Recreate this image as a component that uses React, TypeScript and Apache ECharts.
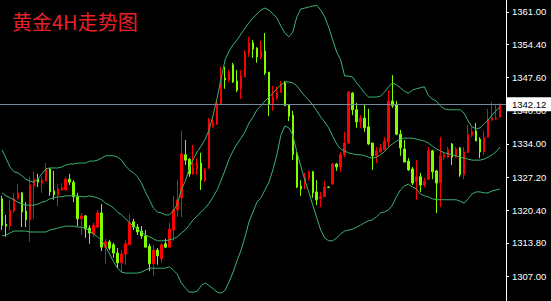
import { useEffect, useRef } from "react";
import * as echarts from "echarts";

const title = "黄金4H走势图";
const currentPrice = 1342.12;
const yTicks = [1307, 1313.8, 1320.4, 1327.2, 1334, 1340.8, 1347.6, 1354.4, 1361];

const opens = [
  1322.8, 1317.6, 1317.2, 1320.3, 1322.8, 1324.0, 1320.3, 1318.5, 1325.4, 1326.8,
  1326.0, 1326.4, 1328.9, 1324.4, 1323.6, 1324.6, 1324.6, 1326.8, 1326.2, 1323.2,
  1318.7, 1319.3, 1316.8, 1315.6, 1317.0, 1319.9, 1312.9, 1314.0, 1313.4, 1311.7,
  1309.7, 1311.5, 1313.4, 1318.1, 1317.0, 1316.2, 1315.2, 1313.1, 1309.5, 1312.3,
  1310.5, 1313.6, 1312.9, 1316.4, 1320.5, 1323.0, 1331.8, 1330.9, 1327.9, 1328.9,
  1330.1, 1326.6, 1329.1, 1337.5, 1338.1, 1342.2, 1347.5, 1347.1, 1350.2, 1346.9,
  1345.3, 1347.7, 1352.6, 1354.7, 1353.6, 1351.8, 1353.0, 1348.7, 1342.2, 1343.4,
  1344.6, 1346.5, 1342.0, 1339.9, 1331.8, 1325.4, 1326.0, 1327.1, 1328.3, 1324.2,
  1322.8, 1323.2, 1325.2, 1325.8, 1329.9, 1329.3, 1331.8, 1334.2, 1344.4, 1341.0,
  1338.5, 1339.3, 1337.5, 1334.2, 1331.6, 1332.4, 1332.8, 1334.4, 1342.8, 1342.0,
  1336.0, 1333.0, 1330.5, 1328.9, 1326.4, 1327.3, 1325.6, 1326.8, 1332.6, 1328.5,
  1326.0, 1331.3, 1331.3, 1334.0, 1331.3, 1333.2, 1327.7, 1332.2, 1335.8, 1336.7,
  1335.0, 1332.4, 1335.4, 1338.9, 1339.1, 1339.5,
];

const closes = [
  1317.4, 1317.2, 1320.5, 1322.8, 1324.0, 1320.1, 1318.5, 1325.6, 1326.8, 1326.2,
  1326.6, 1328.9, 1324.2, 1323.6, 1324.8, 1325.0, 1326.8, 1326.2, 1323.2, 1318.7,
  1319.3, 1316.6, 1315.8, 1317.4, 1319.9, 1312.9, 1314.0, 1312.7, 1311.7, 1309.7,
  1311.5, 1313.6, 1317.9, 1317.0, 1316.0, 1315.2, 1312.9, 1309.5, 1312.3, 1311.1,
  1313.4, 1312.9, 1316.6, 1320.5, 1322.6, 1332.0, 1330.7, 1327.9, 1329.1, 1330.1,
  1326.6, 1328.7, 1338.9, 1338.3, 1342.4, 1347.5, 1347.1, 1348.7, 1346.7, 1345.0,
  1347.9, 1352.6, 1354.7, 1353.4, 1351.8, 1353.0, 1348.5, 1342.2, 1343.6, 1344.6,
  1346.3, 1341.8, 1339.7, 1331.8, 1325.2, 1324.8, 1327.3, 1328.3, 1324.0, 1322.6,
  1323.2, 1325.2, 1325.1, 1329.9, 1329.3, 1331.8, 1334.2, 1344.6, 1341.0, 1338.5,
  1339.3, 1337.3, 1334.0, 1331.6, 1332.6, 1333.2, 1334.6, 1342.8, 1341.8, 1336.0,
  1333.2, 1330.3, 1328.7, 1326.0, 1327.3, 1325.6, 1326.4, 1332.6, 1328.3, 1326.0,
  1331.6, 1331.8, 1332.8, 1331.3, 1333.0, 1327.7, 1332.4, 1336.0, 1336.5, 1334.6,
  1332.4, 1335.4, 1339.1, 1339.3, 1339.3, 1342.12,
];

const lows = [
  1316.4, 1315.0, 1316.4, 1319.9, 1322.6, 1317.0, 1317.0, 1314.0, 1318.7, 1325.2,
  1324.0, 1326.4, 1323.4, 1322.6, 1321.3, 1324.4, 1324.6, 1325.6, 1322.1, 1317.2,
  1315.4, 1314.8, 1313.6, 1315.0, 1316.8, 1312.1, 1309.5, 1312.3, 1310.7, 1308.6,
  1307.8, 1309.3, 1313.4, 1316.4, 1315.4, 1314.6, 1312.9, 1308.0, 1307.0, 1309.3,
  1309.7, 1312.7, 1312.9, 1314.2, 1319.1, 1319.1, 1329.7, 1327.3, 1327.7, 1327.7,
  1324.6, 1326.2, 1328.9, 1337.3, 1337.9, 1342.2, 1345.3, 1346.7, 1346.5, 1344.6,
  1343.2, 1347.7, 1351.8, 1351.6, 1350.6, 1351.4, 1348.1, 1339.7, 1340.8, 1343.0,
  1344.4, 1341.8, 1338.7, 1330.7, 1325.0, 1323.4, 1324.8, 1326.6, 1323.0, 1321.5,
  1321.1, 1323.2, 1325.0, 1325.8, 1328.5, 1328.3, 1331.3, 1334.0, 1339.9, 1337.3,
  1337.3, 1336.5, 1333.8, 1328.7, 1330.1, 1332.2, 1332.8, 1333.4, 1341.4, 1335.8,
  1331.6, 1330.3, 1328.5, 1325.6, 1322.6, 1324.2, 1325.2, 1326.8, 1326.8, 1319.9,
  1321.1, 1330.7, 1331.1, 1329.7, 1331.1, 1327.3, 1326.8, 1332.2, 1335.4, 1334.6,
  1331.1, 1331.8, 1335.4, 1338.7, 1338.9, 1339.3,
];

const highs = [
  1323.4, 1319.5, 1322.6, 1324.0, 1325.8, 1324.2, 1322.1, 1327.3, 1328.3, 1327.9,
  1327.3, 1330.1, 1329.1, 1328.5, 1325.8, 1326.0, 1327.3, 1327.9, 1326.6, 1324.0,
  1319.9, 1319.5, 1317.4, 1317.9, 1320.5, 1321.7, 1314.6, 1314.4, 1313.8, 1312.7,
  1312.3, 1314.4, 1319.7, 1318.7, 1317.6, 1317.2, 1316.4, 1313.6, 1313.4, 1312.7,
  1313.8, 1314.6, 1317.9, 1323.4, 1326.6, 1336.7, 1334.8, 1331.1, 1333.8, 1331.1,
  1332.2, 1329.1, 1339.3, 1339.3, 1343.0, 1349.8, 1349.8, 1349.1, 1350.6, 1349.1,
  1349.1, 1353.2, 1355.9, 1355.3, 1353.8, 1355.1, 1356.7, 1348.7, 1345.9, 1345.7,
  1346.9, 1346.9, 1342.2, 1340.8, 1332.4, 1326.6, 1328.1, 1328.5, 1328.5, 1326.6,
  1324.2, 1326.4, 1325.3, 1330.1, 1330.1, 1332.4, 1336.5, 1344.8, 1344.6, 1342.4,
  1339.9, 1342.0, 1341.2, 1334.2, 1333.4, 1334.0, 1335.4, 1345.0, 1348.1, 1342.8,
  1336.9, 1334.8, 1331.1, 1329.3, 1330.7, 1328.1, 1327.1, 1333.4, 1332.8, 1328.7,
  1335.4, 1332.4, 1333.4, 1334.2, 1333.4, 1333.4, 1333.4, 1337.9, 1337.5, 1338.3,
  1335.4, 1336.7, 1341.2, 1342.6, 1342.2, 1342.3,
];

const bbUpper = [
  1332.8, 1331.1, 1329.3, 1328.3, 1328.1, 1327.5, 1326.8, 1326.4, 1326.2, 1326.8,
  1327.9, 1328.9, 1329.1, 1329.1, 1329.1, 1329.3, 1329.7, 1329.9, 1329.9, 1330.1,
  1330.1, 1330.1, 1330.5, 1330.5, 1330.7, 1331.1, 1331.6, 1331.6, 1331.6, 1331.3,
  1330.7, 1329.5, 1328.7, 1328.1, 1327.3, 1326.0, 1324.2, 1322.6, 1320.9, 1320.1,
  1319.9, 1319.5, 1319.5, 1320.3, 1321.7, 1324.6, 1326.4, 1328.9, 1330.9, 1332.4,
  1333.6, 1335.0, 1336.9, 1339.9, 1343.4, 1347.5, 1351.2, 1353.0, 1354.3, 1355.3,
  1356.5, 1357.7, 1358.8, 1359.8, 1360.6, 1361.4, 1361.8, 1361.4, 1360.6, 1359.8,
  1358.1, 1356.7, 1355.9, 1356.9, 1360.0, 1361.6, 1361.8, 1362.0, 1362.2, 1362.4,
  1361.4, 1360.0, 1357.9, 1355.3, 1352.8, 1351.2, 1347.9, 1347.9, 1347.7, 1346.5,
  1345.5, 1344.4, 1343.6, 1343.6, 1343.6, 1343.8, 1344.6, 1345.7, 1346.5, 1346.1,
  1345.5, 1344.8, 1344.4, 1345.0, 1345.3, 1345.5, 1345.7, 1344.0, 1343.2, 1342.8,
  1341.8, 1341.2, 1341.0, 1341.0, 1341.0, 1341.0, 1340.3, 1338.7, 1337.5, 1337.1,
  1337.3, 1338.1, 1338.9, 1339.9, 1340.8, 1341.6,
];

const bbMiddle = [
  1324.0, 1323.4, 1323.0, 1322.6, 1322.1, 1321.7, 1321.5, 1321.5, 1321.5, 1321.7,
  1322.1, 1322.3, 1322.8, 1323.0, 1323.2, 1323.2, 1323.4, 1323.4, 1323.4, 1323.4,
  1323.2, 1323.2, 1323.4, 1323.2, 1323.0, 1322.6, 1321.9, 1321.5, 1320.9, 1320.1,
  1319.5, 1318.7, 1317.9, 1317.2, 1316.6, 1316.0, 1315.4, 1315.0, 1314.6, 1314.2,
  1314.2, 1314.2, 1314.4, 1314.6, 1315.0, 1315.8, 1316.4, 1317.4, 1318.5, 1319.3,
  1320.1, 1320.9, 1321.9, 1323.2, 1324.6, 1326.6, 1328.7, 1330.9, 1332.6, 1334.0,
  1335.2, 1336.5, 1338.3, 1339.5, 1341.0, 1341.8, 1342.8, 1343.6, 1344.4, 1345.3,
  1346.1, 1346.7, 1346.7, 1346.5, 1345.9, 1344.8, 1343.8, 1343.0, 1342.0, 1340.8,
  1339.5, 1338.5, 1337.3, 1335.6, 1334.0, 1333.0, 1332.6, 1332.2, 1332.0, 1331.8,
  1331.8, 1331.6, 1331.3, 1331.1, 1331.3, 1331.8, 1332.4, 1333.4, 1334.0, 1334.6,
  1335.0, 1335.2, 1335.2, 1335.2, 1335.0, 1334.8, 1334.6, 1334.2, 1333.6, 1333.0,
  1332.6, 1332.2, 1332.0, 1331.8, 1331.6, 1331.3, 1331.1, 1330.9, 1330.7, 1330.7,
  1330.7, 1330.9, 1331.3, 1331.8, 1332.4, 1333.4,
];

const bbLower = [
  1315.2, 1315.4, 1315.8, 1316.2, 1316.2, 1316.2, 1316.2, 1316.0, 1316.0, 1316.0,
  1316.0, 1316.0, 1316.4, 1316.6, 1316.8, 1317.0, 1317.2, 1317.2, 1317.2, 1317.0,
  1317.0, 1316.8, 1316.2, 1315.6, 1315.0, 1314.2, 1313.1, 1311.5, 1309.9, 1308.6,
  1307.8, 1307.6, 1307.6, 1307.6, 1307.6, 1307.8, 1308.2, 1308.6, 1308.6, 1308.6,
  1308.6, 1308.6, 1308.9, 1308.2, 1307.4, 1305.6, 1304.6, 1303.7, 1303.7, 1303.9,
  1305.0, 1305.6, 1305.0, 1304.4, 1303.7, 1303.5, 1304.1, 1305.8, 1307.8, 1310.1,
  1312.3, 1315.0, 1318.1, 1320.1, 1322.1, 1323.0, 1324.6, 1326.2, 1328.7, 1331.8,
  1335.8, 1337.7, 1337.3, 1335.8, 1332.4, 1329.5, 1326.6, 1324.2, 1321.5, 1318.9,
  1316.4, 1314.8, 1314.2, 1314.2, 1314.8, 1315.6, 1316.2, 1316.4, 1316.6, 1317.0,
  1317.4, 1317.9, 1318.3, 1318.5, 1319.1, 1319.9, 1320.1, 1320.5, 1321.5, 1323.2,
  1324.6, 1325.4, 1325.8, 1325.2, 1324.8, 1323.8, 1323.4, 1323.2, 1322.8, 1322.6,
  1322.6, 1322.6, 1322.6, 1322.6, 1322.6, 1322.3, 1321.9, 1322.8, 1323.8, 1324.2,
  1324.2, 1324.0, 1324.0, 1324.4, 1324.6, 1324.8,
];

// one category per 4H bar, plus one empty slot of right-hand shift space
const categories = opens.map((_, i) => String(i + 1)).concat([""]);

export default function App() {
  const ref = useRef<HTMLDivElement>(null);

  useEffect(() => {
    if (!ref.current) return;
    const chart = echarts.init(ref.current, undefined, { renderer: "svg" });
    const candleData = opens.map((o, i) => [o, closes[i], lows[i], highs[i]]);
    const bandStyle = { color: "#3cb371", width: 1 };
    chart.setOption({
      animation: false,
      backgroundColor: "#000000",
      title: {
        text: title,
        left: 7,
        top: 6,
        textStyle: {
          color: "#e8202a",
          fontSize: 20,
          fontWeight: "normal",
          fontFamily: "Noto Sans CJK SC",
        },
      },
      grid: { left: -2.7, right: 45, top: 0, bottom: 0 },
      xAxis: {
        type: "category",
        data: categories,
        show: false,
        boundaryGap: true,
      },
      yAxis: {
        type: "value",
        position: "right",
        min: 1301.89,
        max: 1363.45,
        axisLine: { show: true, lineStyle: { color: "#ffffff", width: 1 } },
        axisTick: {
          show: true,
          customValues: yTicks,
          length: 3,
          lineStyle: { color: "#ffffff" },
        },
        axisLabel: {
          customValues: yTicks,
          formatter: (v: number) => v.toFixed(2),
          color: "#ffffff",
          fontSize: 9.5,
          fontFamily: "Liberation Sans",
          margin: 6,
        },
        splitLine: { show: false },
      },
      series: [
        {
          type: "line",
          data: bbUpper,
          symbol: "none",
          showSymbol: false,
          lineStyle: bandStyle,
          silent: true,
        },
        {
          type: "line",
          data: bbMiddle,
          symbol: "none",
          showSymbol: false,
          lineStyle: bandStyle,
          silent: true,
        },
        {
          type: "line",
          data: bbLower,
          symbol: "none",
          showSymbol: false,
          lineStyle: bandStyle,
          silent: true,
        },
        {
          type: "candlestick",
          data: candleData,
          barWidth: 2,
          itemStyle: {
            color: "#ff0000",
            color0: "#7fff00",
            borderColor: "#ff0000",
            borderColor0: "#7fff00",
            borderWidth: 1,
          },
          markLine: {
            silent: true,
            symbol: ["none", "none"],
            lineStyle: { color: "#778899", width: 1, type: "solid" },
            label: {
              show: true,
              position: "end",
              formatter: currentPrice.toFixed(2),
              backgroundColor: "#ffffff",
              color: "#000000",
              fontSize: 9.5,
              fontFamily: "Liberation Sans",
              padding: [2, 8, 2, 5],
              distance: 1,
            },
            data: [{ yAxis: currentPrice }],
          },
        },
      ],
    });
    return () => chart.dispose();
  }, []);

  return (
    <div
      ref={ref}
      style={{ position: "fixed", left: 0, top: 0, width: 551, height: 301 }}
    />
  );
}
